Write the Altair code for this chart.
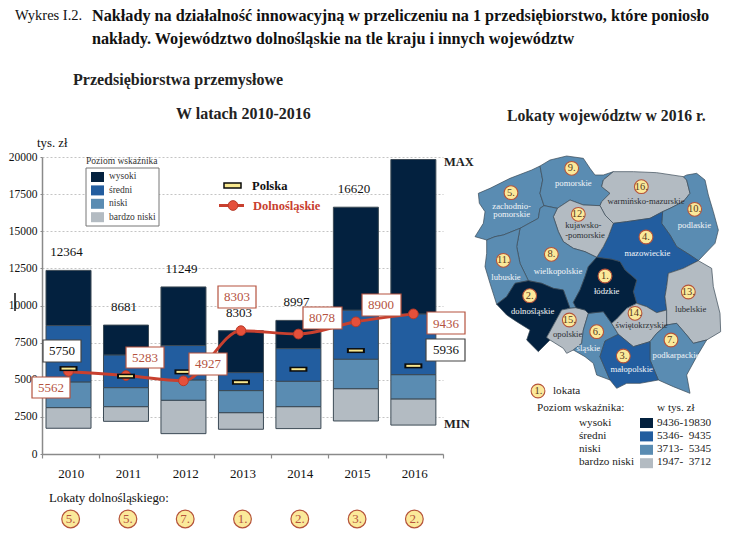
import altair as alt
import pandas as pd

# ---------- values ----------
years = [2010, 2011, 2012, 2013, 2014, 2015, 2016]
minimum = [1733, 2200, 1370, 1665, 1710, 2225, 1947]
bardzo_niski_top = [3124, 3190, 3620, 2785, 3190, 4400, 3712]
niski_top = [4855, 4470, 4990, 4270, 4900, 6385, 5345]
sredni_top = [8651, 6675, 7305, 5485, 7100, 9690, 9435]
maximum = [12364, 8681, 11249, 8303, 8997, 16620, 19830]
max_labels = ["12364", "8681", "11249", "8303", "8997", "16620", ""]
polska = [5750, 5240, 5530, 4835, 5710, 6965, 5936]
dolnoslaskie = [5562, 5283, 4927, 8303, 8078, 8900, 9436]
lokaty = ["5.", "5.", "7.", "1.", "2.", "3.", "2."]

levels = ["wysoki", "średni", "niski", "bardzo niski"]
colors = ["#03213f", "#225d9f", "#5a8cb2", "#b3bbc2"]
ranges_text = ["9436-19830", "5346-\u00a0\u00a09435", "3713-\u00a0\u00a05345", "1947-\u00a0\u00a03712"]

# ---------- map outlines (map units) ----------
regions = {
    "zachodniopomorskie": ("niski", [(15,290),(40,250),(45,215),(28,190),(25,160),(60,145),(120,115),(185,90),(210,78),(218,120),(210,160),(222,197),(210,205),(205,235),(150,265),(100,285),(75,290),(50,300)]),
    "pomorskie": ("niski", [(210,78),(240,60),(290,48),(340,55),(360,85),(375,105),(400,105),(430,95),(400,120),(395,140),(420,160),(395,185),(390,197),(340,195),(300,180),(262,205),(222,197),(210,160),(218,120)]),
    "warmińsko-mazurskie": ("bardzo niski", [(430,95),(490,95),(560,98),(640,110),(650,120),(660,160),(640,185),(600,205),(578,215),(540,235),(470,245),(430,250),(405,225),(390,197),(395,185),(420,160),(395,140),(400,120)]),
    "podlaskie": ("niski", [(640,110),(650,105),(680,100),(705,120),(715,165),(730,215),(745,270),(735,310),(685,362),(660,345),(620,320),(600,285),(575,250),(578,215),(600,205),(640,185),(660,160),(650,120)]),
    "mazowieckie": ("średni", [(578,215),(575,250),(600,285),(620,320),(660,345),(685,362),(640,385),(595,400),(590,440),(585,470),(590,510),(560,518),(530,500),(500,490),(490,455),(500,420),(465,390),(450,365),(425,358),(380,352),(400,320),(415,290),(430,250),(470,245),(540,235)]),
    "kujawsko-pomorskie": ("bardzo niski", [(262,205),(300,180),(340,195),(390,197),(405,225),(430,250),(415,290),(400,320),(380,352),(345,335),(310,325),(280,305),(265,275),(250,230)]),
    "wielkopolskie": ("niski", [(222,197),(262,205),(250,230),(265,275),(280,305),(310,325),(345,335),(380,352),(355,380),(345,410),(330,450),(310,487),(318,503),(300,505),(280,450),(250,445),(215,430),(175,422),(150,370),(140,320),(150,265),(205,235),(210,205)]),
    "lubuskie": ("niski", [(50,300),(75,290),(100,285),(150,265),(140,320),(150,370),(175,422),(135,430),(110,470),(80,493),(60,430),(45,380),(50,340)]),
    "dolnośląskie": ("wysoki", [(175,422),(215,430),(250,445),(280,450),(300,505),(275,510),(245,565),(230,592),(240,600),(205,635),(170,600),(180,570),(140,545),(110,525),(80,493),(110,470),(135,430)]),
    "opolskie": ("bardzo niski", [(300,505),(318,503),(345,510),(355,520),(340,570),(335,610),(310,630),(290,640),(280,625),(240,600),(230,592),(245,565),(275,510)]),
    "śląskie": ("niski", [(355,520),(400,515),(425,550),(445,583),(405,603),(390,650),(420,720),(380,705),(370,670),(345,650),(310,630),(335,610),(340,570)]),
    "łódzkie": ("wysoki", [(380,352),(425,358),(450,365),(465,390),(500,420),(490,455),(500,490),(470,505),(440,537),(425,550),(400,515),(355,520),(345,510),(318,503),(310,487),(330,450),(345,410),(355,380)]),
    "świętokrzyskie": ("bardzo niski", [(500,490),(530,500),(560,518),(590,510),(590,555),(560,580),(540,605),(490,620),(445,583),(425,550),(440,537),(470,505)]),
    "lubelskie": ("bardzo niski", [(685,362),(725,385),(730,440),(750,520),(752,575),(710,600),(670,610),(650,585),(620,550),(590,555),(590,510),(585,470),(590,440),(595,400),(640,385)]),
    "podkarpackie": ("niski", [(590,555),(620,550),(650,585),(670,610),(710,600),(680,650),(650,705),(660,760),(610,740),(565,720),(540,660),(540,605),(560,580)]),
    "małopolskie": ("średni", [(390,650),(405,603),(445,583),(490,620),(540,605),(540,660),(565,720),(510,730),(470,730),(440,745),(420,720)]),
}
map_ranks = [("5.",123,158),("9.",305,85),("16.",514,140),("10.",674,208),("12.",325,223),("4.",528,291),
             ("11.",100,361),("8.",244,343),("1.",405,408),("2.",179,467),("13.",655,456),("14.",495,520),
             ("15.",298,540),("6.",380,575),("7.",603,600),("3.",460,648)]
map_names = [("zachodnio-",125,197,"w"),("pomorskie",125,223,"w"),("pomorskie",310,128,"w"),
             ("warmińsko-mazurskie",528,182,"d"),("podlaskie",673,255,"w"),("kujawsko-",340,256,"d"),
             ("-pomorskie",345,284,"d"),("mazowieckie",532,338,"w"),("lubuskie",108,410,"w"),
             ("wielkopolskie",264,392,"w"),("łódzkie",410,452,"w"),("dolnośląskie",188,512,"w"),
             ("lubelskie",662,507,"d"),("świętokrzyskie",515,555,"d"),("opolskie",293,582,"d"),
             ("śląskie",355,625,"w"),("podkarpackie",618,645,"w"),("małopolskie",485,687,"w")]

# ---------- layout ----------
OX, OY = 42, 157      # plot origin on the page
W, H = 401, 297
FONT = "Liberation Serif"
RED = "#c8402f"
BROWN = "#b5533f"
YEL = "#fbe99a"

GRAY_AX = "#8a8a8a"
x_bar = alt.Scale(type="band", domain=years, paddingInner=0.217, paddingOuter=0.097, align=0.36)
x_ax = alt.Scale(type="band", domain=years, paddingInner=0, paddingOuter=0)
y_s = alt.Scale(domain=[0, 20000], nice=False)
X = alt.X("year:O", scale=x_bar, axis=None)
X_A = alt.X("year:O", scale=x_ax, axis=None)
Y_NONE = dict(axis=None, scale=y_s)


def px(v):
    return alt.X(v + ":Q", scale=None, axis=None)


def py(v):
    return alt.Y(v + ":Q", scale=None, axis=None)


# ---------- chart tables ----------
d = pd.DataFrame({"year": years, "polska": polska, "dol": dolnoslaskie,
                  "mx": maximum, "mlab": max_labels, "lok": lokaty})
segs = []
for i, yr in enumerate(years):
    tops = [(levels[3], minimum[i], bardzo_niski_top[i]), (levels[2], bardzo_niski_top[i], niski_top[i]),
            (levels[1], niski_top[i], sredni_top[i]), (levels[0], sredni_top[i], maximum[i])]
    for lev, lo, hi in tops:
        segs.append({"year": yr, "level": lev, "lo": lo, "hi": hi})
segs = pd.DataFrame(segs)
lev_scale = alt.Scale(domain=levels, range=colors)

layers = []

# axes + grid
layers.append(alt.Chart(d).mark_bar(opacity=0).encode(
    x=alt.X("year:O", scale=x_ax, axis=alt.Axis(
        title=None, labelAngle=0, tickBand="extent", labelFont=FONT, labelFontSize=13, labelColor="#111",
        domainColor=GRAY_AX, domainWidth=1.5, tickColor=GRAY_AX, tickSize=4, tickWidth=1.2, labelPadding=9, grid=False)),
    y=alt.Y("mx:Q", scale=y_s, axis=alt.Axis(
        title=None, values=list(range(0, 20001, 2500)), format="d", labelFont=FONT, labelFontSize=11.5, labelColor="#111",
        domainColor=GRAY_AX, domainWidth=1.5, tickColor=GRAY_AX, tickSize=2, labelPadding=3,
        grid=True, gridColor="#c4c4c4", gridDash=[2, 2], gridWidth=1))))

# stacked bars
layers.append(alt.Chart(segs).mark_bar(stroke="#3c4a55", strokeWidth=1).encode(
    x=X, y=alt.Y("lo:Q", **Y_NONE), y2="hi:Q",
    color=alt.Color("level:N", scale=lev_scale, legend=None)))

# totals
layers.append(alt.Chart(d).mark_text(font=FONT, fontSize=13, dy=-18, dx=-2, color="#111").encode(
    x=X, y=alt.Y("mx:Q", **Y_NONE), text="mlab:N"))

# Dolnośląskie
layers.append(alt.Chart(d).mark_line(color=RED, strokeWidth=3, interpolate="monotone").encode(
    x=X, y=alt.Y("dol:Q", **Y_NONE)))
layers.append(alt.Chart(d).mark_point(filled=True, shape="circle", size=95, fill="#e5503b", stroke="#b73a28",
                                      strokeWidth=1, opacity=1).encode(
    x=X, y=alt.Y("dol:Q", **Y_NONE)))

# Polska
layers.append(alt.Chart(d).mark_tick(color="#0b0b0b", size=18, thickness=5, opacity=1).encode(
    x=X, y=alt.Y("polska:Q", **Y_NONE)))
layers.append(alt.Chart(d).mark_tick(color="#f8e88f", size=14, thickness=2, opacity=1).encode(
    x=X, y=alt.Y("polska:Q", **Y_NONE)))

# annotation boxes (page pixels)
boxes = [(32, 70, 377, 398, BROWN), (126, 164, 347, 368, BROWN), (189, 227, 353, 375, BROWN),
         (218, 256, 286, 308, BROWN), (303, 342, 307, 329, BROWN), (362, 401, 294, 316, BROWN),
         (427, 465, 312, 334, BROWN), (43, 81, 340, 362, "#444444"), (426, 465, 339, 361, "#444444")]
bx = pd.DataFrame([{"a": a - OX, "b": b - OX, "c": c - OY, "e": e - OY, "s": s} for a, b, c, e, s in boxes])
layers.append(alt.Chart(bx).mark_rect(fill="white", strokeWidth=1.2).encode(
    x=px("a"), x2="b:Q", y=py("c"), y2="e:Q", stroke=alt.Stroke("s:N", scale=None)))

# legend frame and swatches of the left panel, swatches of the right panel
swatch_rows = []
for i, lev in enumerate(levels):
    swatch_rows.append({"a": 91 - OX, "b": 104 - OX, "c": 172 + i * 13.4 - OY, "e": 182 + i * 13.4 - OY, "level": lev})
    swatch_rows.append({"a": 640 - OX, "b": 653 - OX, "c": 418 + i * 13.4 - OY, "e": 428 + i * 13.4 - OY, "level": lev})
frame = pd.DataFrame([{"a": 86 - OX, "b": 159 - OX, "c": 168 - OY, "e": 226 - OY}])
layers.append(alt.Chart(frame).mark_rect(fill="white", stroke="#777777", strokeWidth=1).encode(
    x=px("a"), x2="b:Q", y=py("c"), y2="e:Q"))
layers.append(alt.Chart(pd.DataFrame(swatch_rows)).mark_rect().encode(
    x=px("a"), x2="b:Q", y=py("c"), y2="e:Q", color=alt.Color("level:N", scale=lev_scale, legend=None)))

# chart key: Polska marker + Dolnośląskie line
key_rect = pd.DataFrame([{"a": 224 - OX, "b": 241 - OX, "c": 183 - OY, "e": 188 - OY}])
layers.append(alt.Chart(key_rect).mark_rect(fill="#f8e88f", stroke="#0b0b0b", strokeWidth=1.5).encode(
    x=px("a"), x2="b:Q", y=py("c"), y2="e:Q"))
key_line = pd.DataFrame([{"a": 219 - OX, "b": 244 - OX, "c": 205.5 - OY}])
layers.append(alt.Chart(key_line).mark_rule(color=RED, strokeWidth=3).encode(x=px("a"), x2="b:Q", y=py("c")))
key_pt = pd.DataFrame([{"a": 233 - OX, "c": 205.5 - OY}])
layers.append(alt.Chart(key_pt).mark_point(filled=True, shape="circle", size=95, fill="#e5503b", stroke="#b73a28",
                                           strokeWidth=1, opacity=1).encode(x=px("a"), y=py("c")))

# stray cursor mark in the source image
cursor = pd.DataFrame([{"a": 15 - OX, "c": 293 - OY, "e": 311 - OY}])
layers.append(alt.Chart(cursor).mark_rule(color="#111", strokeWidth=1.5).encode(x=px("a"), y=py("c"), y2="e:Q"))

# Lokaty row under the axis
lok_y = 519 - OY
layers.append(alt.Chart(d).mark_point(filled=True, shape="circle", size=314, fill=YEL, stroke="#b5533a",
                                      strokeWidth=1.2, opacity=1).encode(x=X_A, y=alt.value(lok_y)))
layers.append(alt.Chart(d).mark_text(font=FONT, fontSize=13, color=BROWN).encode(
    x=X_A, y=alt.value(lok_y), text="lok:N"))

# ---------- map ----------
proj = alt.Projection(type="identity", scale=1 / 3, translate=[470 - OX, 140 - OY])
features = [{"type": "Feature", "properties": {"name": n, "level": lv},
             "geometry": {"type": "Polygon", "coordinates": [[list(p) for p in pts] + [list(pts[0])]]}}
            for n, (lv, pts) in regions.items()]
layers.append(alt.Chart(alt.Data(values=features)).mark_geoshape(stroke="#3b4a58", strokeWidth=0.7, clip=False).encode(
    color=alt.Color("properties.level:N", scale=lev_scale, legend=None)).properties(projection=proj))

rk = pd.DataFrame(map_ranks, columns=["t", "lon", "lat"])
layers.append(alt.Chart(rk).mark_point(filled=True, shape="circle", size=190, fill=YEL, stroke="#b5533a",
                                       strokeWidth=1.1, opacity=1, clip=False).encode(
    longitude="lon:Q", latitude="lat:Q").properties(projection=proj))
layers.append(alt.Chart(rk).mark_text(font=FONT, fontSize=10.5, color="#5a3a1a", clip=False).encode(
    longitude="lon:Q", latitude="lat:Q", text="t:N").properties(projection=proj))
nm = pd.DataFrame(map_names, columns=["t", "lon", "lat", "k"])
for k, col in [("w", "#f2f5f8"), ("d", "#2b2f33")]:
    layers.append(alt.Chart(nm[nm.k == k]).mark_text(font=FONT, fontSize=8.7, color=col, clip=False).encode(
        longitude="lon:Q", latitude="lat:Q", text="t:N").properties(projection=proj))

# key of the map
layers.append(alt.Chart(pd.DataFrame([{"a": 538 - OX, "c": 391 - OY}])).mark_point(
    filled=True, shape="circle", size=190, fill=YEL, stroke="#b5533a", strokeWidth=1.1, opacity=1).encode(
    x=px("a"), y=py("c")))

# ---------- texts (page pixels) ----------
DARK = "#111111"
texts = [
    ("Wykres I.2.", 15, 16, 14.5, "normal", DARK),
    ("Nakłady na działalność innowacyjną w przeliczeniu na 1 przedsiębiorstwo, które poniosło", 92, 16, 16.2, "bold", DARK),
    ("nakłady. Województwo dolnośląskie na tle kraju i innych województw", 92, 39, 16.2, "bold", DARK),
    ("Przedsiębiorstwa przemysłowe", 73, 80, 16, "bold", "#222222"),
    ("W latach 2010-2016", 176, 114, 16, "bold", "#222222"),
    ("Lokaty województw w 2016 r.", 507, 116, 15.7, "bold", "#222222"),
    ("tys. zł", 37, 143, 12.8, "normal", DARK),
    ("Poziom wskaźnika", 86, 161, 9.5, "normal", "#333333"),
    ("wysoki", 109, 176, 9.5, "normal", "#333333"),
    ("średni", 109, 190, 9.5, "normal", "#333333"),
    ("niski", 109, 203, 9.5, "normal", "#333333"),
    ("bardzo niski", 109, 217, 9.5, "normal", "#333333"),
    ("Polska", 252, 186, 12.5, "bold", DARK),
    ("Dolnośląskie", 253, 206, 12.5, "bold", RED),
    ("MAX", 444, 162, 12.5, "bold", "#222222"),
    ("MIN", 444, 424, 12.5, "bold", "#222222"),
    ("Lokaty dolnośląskiego:", 49, 498, 12.8, "normal", DARK),
    ("5562", 38, 388, 13, "normal", BROWN),
    ("5283", 132, 358, 13, "normal", BROWN),
    ("4927", 195, 364, 13, "normal", BROWN),
    ("8303", 224, 297, 13, "normal", BROWN),
    ("8078", 309, 318, 13, "normal", BROWN),
    ("8900", 368, 305, 13, "normal", BROWN),
    ("9436", 433, 324, 13, "normal", BROWN),
    ("5750", 49, 351, 13, "normal", DARK),
    ("5936", 433, 350, 13, "normal", DARK),
    ("lokata", 553, 391, 11.2, "normal", "#222222"),
    ("Poziom wskaźnika:", 537, 408, 11.2, "normal", "#222222"),
    ("w tys. zł", 657, 408, 11.2, "normal", "#222222"),
    ("wysoki", 579, 423, 11.2, "normal", "#222222"),
    ("średni", 579, 436, 11.2, "normal", "#222222"),
    ("niski", 579, 449, 11.2, "normal", "#222222"),
    ("bardzo niski", 579, 462, 11.2, "normal", "#222222"),
    (ranges_text[0], 657, 423, 11.2, "normal", "#222222"),
    (ranges_text[1], 657, 436, 11.2, "normal", "#222222"),
    (ranges_text[2], 657, 449, 11.2, "normal", "#222222"),
    (ranges_text[3], 657, 462, 11.2, "normal", "#222222"),
    ("1.", 534.5, 391, 10.5, "normal", "#5a3a1a"),
]
tdf = pd.DataFrame(texts, columns=["t", "x", "y", "size", "weight", "col"])
tdf["x"] -= OX
tdf["y"] -= OY
for (sz, wt, col), g in tdf.groupby(["size", "weight", "col"]):
    layers.append(alt.Chart(g[["t", "x", "y"]]).mark_text(
        font=FONT, fontSize=sz, fontWeight=wt, color=col, align="left", baseline="middle").encode(
        x=px("x"), y=py("y"), text="t:N"))

chart = alt.layer(*layers).resolve_scale(x="independent").resolve_axis(y="independent").properties(
    width=W, height=H, background="white",
    padding={"left": OX - 8, "top": OY - 8, "right": 722 - (OX - 8) - W, "bottom": 531 - (OY - 8) - H},
    autosize=alt.AutoSizeParams(type="none", contains="content"),
).configure_view(stroke=None)

chart.save("out.html", embed_options={"renderer": "svg", "actions": False})
